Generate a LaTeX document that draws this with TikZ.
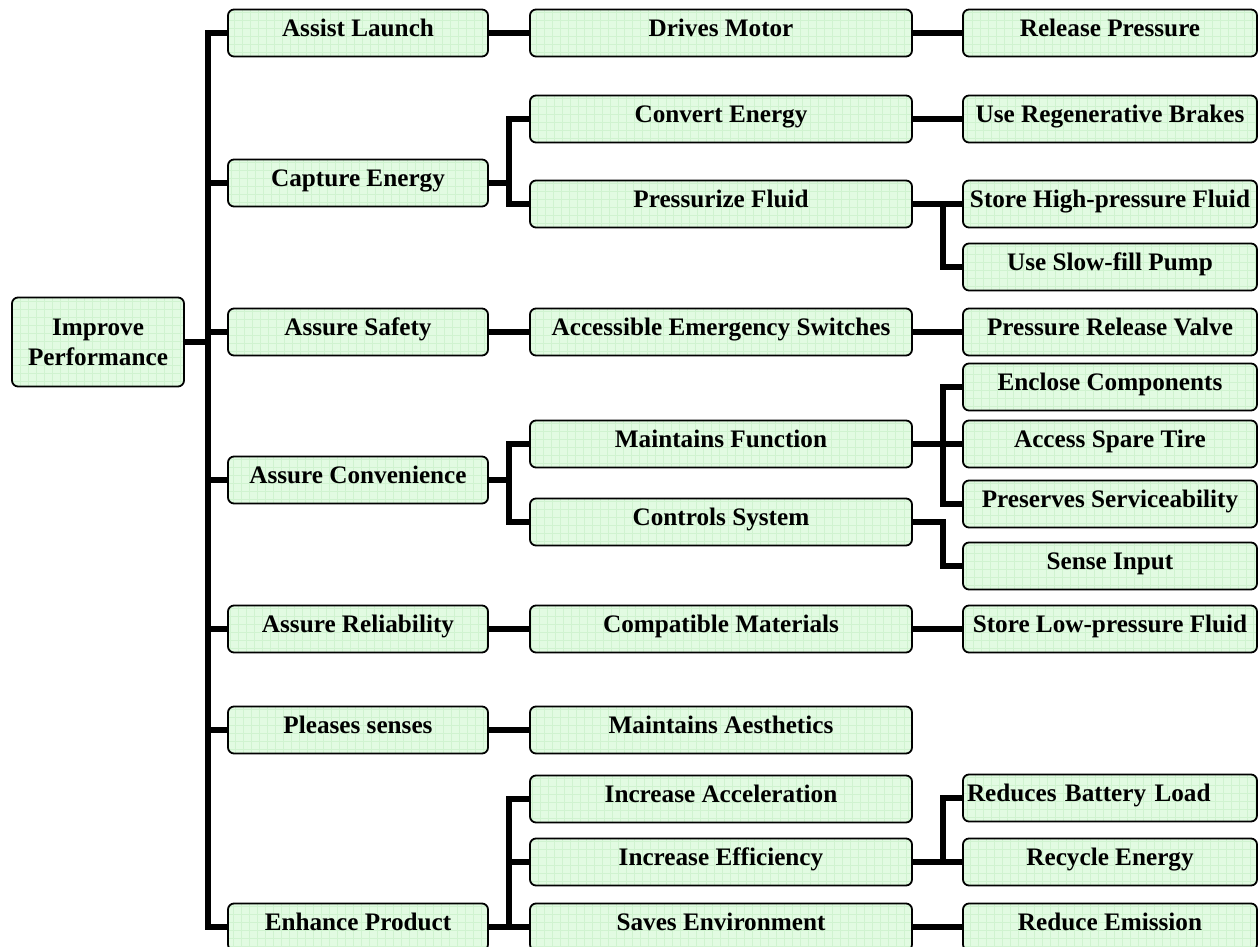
\documentclass[tikz,border=0pt]{standalone}
\usepackage{fontspec}
\setmainfont{Liberation Serif}
\definecolor{boxgreen}{RGB}{226,251,226}
\definecolor{gridgreen}{RGB}{208,243,208}
\tikzset{
  func/.style={draw, line width=0.9pt, rounded corners=3pt, fill=boxgreen,
    font=\fontsize{12.6}{15}\selectfont\bfseries, inner xsep=2pt, inner ysep=0pt,
    path picture={\draw[gridgreen, line width=0.25pt]
      (path picture bounding box.south west) grid[step=4pt]
      (path picture bounding box.north east);}},
  lvl/.style={func, minimum height=23.5pt, text height=0.66em, text depth=0.34em},
  lvlone/.style={lvl, minimum width=130pt},
  lvltwo/.style={lvl, minimum width=191pt},
  lvlthree/.style={lvl, minimum width=147pt},
  link/.style={line width=3pt},
}
\begin{document}
\begin{tikzpicture}[x=0.5pt, y=-0.5pt]
\useasboundingbox (0,0) rectangle (1260,947);

% Root
\node[func, minimum width=86pt, minimum height=44.5pt, align=center] (root) at (98,342)
  {Improve\\Performance};

% First level
\node[lvlone] (launch)      at (358,33)  {Assist Launch};
\node[lvlone] (capture)     at (358,183) {Capture Energy};
\node[lvlone] (safety)      at (358,332) {Assure Safety};
\node[lvlone] (convenience) at (358,480) {Assure Convenience};
\node[lvlone] (reliability) at (358,629) {Assure Reliability};
\node[lvlone] (senses)      at (358,730) {Pleases senses};
\node[lvlone] (enhance)     at (358,927) {Enhance Product};

% Second level
\node[lvltwo] (motor)        at (721,33)  {Drives Motor};
\node[lvltwo] (convert)      at (721,119) {Convert Energy};
\node[lvltwo] (pressurize)   at (721,204) {Pressurize Fluid};
\node[lvltwo] (switches)     at (721,332) {Accessible Emergency Switches};
\node[lvltwo] (function)     at (721,444) {Maintains Function};
\node[lvltwo] (controls)     at (721,522) {Controls System};
\node[lvltwo] (materials)    at (721,629) {Compatible Materials};
\node[lvltwo] (aesthetics)   at (721,730) {Maintains Aesthetics};
\node[lvltwo] (acceleration) at (721,799) {Increase Acceleration};
\node[lvltwo] (efficiency)   at (721,862) {Increase Efficiency};
\node[lvltwo] (environment)  at (721,927) {Saves Environment};

% Third level
\node[lvlthree] (release)   at (1110,33)  {Release Pressure};
\node[lvlthree] (brakes)    at (1110,119) {Use Regenerative Brakes};
\node[lvlthree] (storehigh) at (1110,204) {Store High-pressure Fluid};
\node[lvlthree] (slowfill)  at (1110,267) {Use Slow-fill Pump};
\node[lvlthree] (valve)     at (1110,332) {Pressure Release Valve};
\node[lvlthree] (enclose)   at (1110,387) {Enclose Components};
\node[lvlthree] (spare)     at (1110,444) {Access Spare Tire};
\node[lvlthree] (service)   at (1110,504) {Preserves Serviceability};
\node[lvlthree] (sense)     at (1110,566) {Sense Input};
\node[lvlthree] (storelow)  at (1110,629) {Store Low-pressure Fluid};
\node[lvlthree, text width=143pt, align=left] (battery) at (1110,798) {Reduces Battery Load};
\node[lvlthree] (recycle)   at (1110,862) {Recycle Energy};
\node[lvlthree] (emission)  at (1110,927) {Reduce Emission};

% Connectors
\draw[link] (root.east) -- ++(23,0) |- (launch.west)
            (root.east) -- ++(23,0) |- (capture.west)
            (root.east) -- ++(23,0) |- (safety.west)
            (root.east) -- ++(23,0) |- (convenience.west)
            (root.east) -- ++(23,0) |- (reliability.west)
            (root.east) -- ++(23,0) |- (senses.west)
            (root.east) -- ++(23,0) |- (enhance.west);

\draw[link] (launch.east) -- (motor.west);
\draw[link] (capture.east) -- ++(20,0) |- (convert.west)
            (capture.east) -- ++(20,0) |- (pressurize.west);
\draw[link] (safety.east) -- (switches.west);
\draw[link] (convenience.east) -- ++(20,0) |- (function.west)
            (convenience.east) -- ++(20,0) |- (controls.west);
\draw[link] (reliability.east) -- (materials.west);
\draw[link] (senses.east) -- (aesthetics.west);
\draw[link] (enhance.east) -- ++(20,0) |- (acceleration.west)
            (enhance.east) -- ++(20,0) |- (efficiency.west)
            (enhance.east) -- ++(20,0) |- (environment.west);

\draw[link] (motor.east) -- (release.west);
\draw[link] (convert.east) -- (brakes.west);
\draw[link] (pressurize.east) -- ++(30,0) |- (storehigh.west)
            (pressurize.east) -- ++(30,0) |- (slowfill.west);
\draw[link] (switches.east) -- (valve.west);
\draw[link] (function.east) -- ++(30,0) |- (enclose.west)
            (function.east) -- ++(30,0) |- (spare.west)
            (function.east) -- ++(30,0) |- (service.west);
\draw[link] (controls.east) -- ++(30,0) |- (sense.west);
\draw[link] (materials.east) -- (storelow.west);
\draw[link] (efficiency.east) -- ++(30,0) |- (battery.west)
            (efficiency.east) -- ++(30,0) |- (recycle.west);
\draw[link] (environment.east) -- (emission.west);
\end{tikzpicture}
\end{document}
